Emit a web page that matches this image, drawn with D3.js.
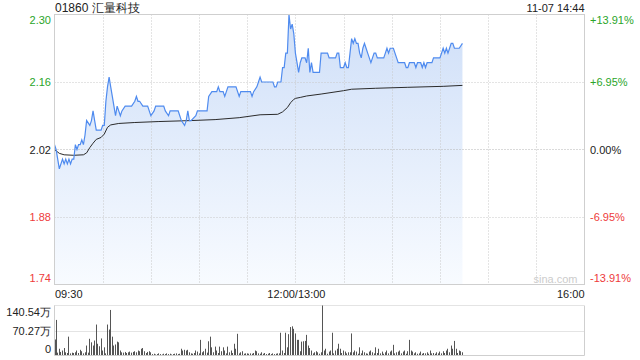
<!DOCTYPE html>
<html><head><meta charset="utf-8">
<script src="https://cdn.jsdelivr.net/npm/d3@7"></script>
<style>body{margin:0;background:#fff}svg{display:block}text{font-family:"Liberation Sans",Arial,sans-serif}</style>
</head><body><svg id="c" width="640" height="360"></svg>
<script>
const title = "01860 汇量科技";
const stamp = "11-07 14:44";
const prevClose = 2.02;
const priceTicks = [2.30, 2.16, 2.02, 1.88, 1.74];
const pctTicks = ["+13.91%", "+6.95%", "0.00%", "-6.95%", "-13.91%"];
const timeLabels = ["09:30", "12:00/13:00", "16:00"];
const gridTimes = ["09:30","10:00","10:30","11:00","11:30","13:00","13:30","14:00","14:30","15:00","15:30","16:00"];
const volTicks = [140.54, 70.27, 0];
const volTickLabels = ["140.54万", "70.27万", "0"];

const priceSeries = [
["09:30",2.03],["09:31",2.02],["09:33",1.98],["09:35",2.00],["09:36",1.99],["09:37",2.00],["09:38",1.99],["09:39",2.00],
["09:40",1.99],["09:41",2.00],["09:42",2.00],["09:43",2.03],["09:44",2.02],["09:45",2.03],["09:46",2.03],["09:47",2.04],
["09:48",2.03],["09:49",2.05],["09:50",2.08],["09:52",2.07],["09:53",2.08],["09:54",2.10],["09:55",2.08],["09:56",2.06],
["09:57",2.06],["09:59",2.06],["10:00",2.07],["10:01",2.07],["10:02",2.12],["10:03",2.15],["10:04",2.17],["10:05",2.15],
["10:06",2.13],["10:07",2.11],["10:08",2.09],["10:09",2.11],["10:10",2.10],["10:11",2.09],["10:12",2.10],["10:14",2.11],
["10:18",2.11],["10:20",2.12],["10:21",2.13],["10:22",2.12],["10:23",2.12],["10:25",2.11],["10:28",2.11],["10:30",2.09],
["10:32",2.10],["10:33",2.11],["10:38",2.11],["10:39",2.10],["10:41",2.09],["10:42",2.10],["10:47",2.10],["10:48",2.09],
["10:49",2.08],["10:51",2.07],["10:52",2.08],["10:53",2.10],["10:54",2.08],["10:55",2.08],["10:58",2.09],["10:59",2.10],
["11:05",2.10],["11:06",2.13],["11:08",2.14],["11:11",2.14],["11:12",2.15],["11:13",2.14],["11:15",2.14],["11:16",2.13],
["11:17",2.14],["11:18",2.15],["11:23",2.15],["11:25",2.13],["11:26",2.14],["11:32",2.14],["11:33",2.13],["11:34",2.14],
["11:36",2.15],["11:37",2.16],["11:38",2.17],["11:39",2.16],["11:46",2.16],["11:47",2.15],["11:48",2.15],["11:49",2.16],
["11:51",2.16],["11:52",2.19],["11:53",2.19],["11:54",2.22],["11:55",2.22],["11:56",2.30],["11:57",2.27],["11:58",2.28],
["11:59",2.26],["13:00",2.22],["13:01",2.20],["13:02",2.18],["13:03",2.20],["13:04",2.21],["13:06",2.21],["13:07",2.20],
["13:08",2.23],["13:09",2.18],["13:10",2.20],["13:11",2.18],["13:15",2.18],["13:16",2.22],["13:20",2.22],["13:21",2.21],
["13:25",2.21],["13:26",2.22],["13:27",2.22],["13:28",2.19],["13:30",2.19],["13:31",2.20],["13:32",2.19],["13:33",2.19],
["13:34",2.22],["13:35",2.25],["13:36",2.24],["13:37",2.25],["13:38",2.24],["13:39",2.24],["13:40",2.22],["13:41",2.21],
["13:42",2.23],["13:43",2.24],["13:44",2.23],["13:45",2.22],["13:46",2.21],["13:47",2.20],["13:48",2.21],["13:49",2.22],
["13:50",2.22],["13:51",2.21],["13:55",2.21],["13:56",2.22],["13:57",2.23],["13:58",2.22],["13:59",2.23],["14:01",2.23],
["14:03",2.21],["14:04",2.20],["14:08",2.20],["14:09",2.19],["14:10",2.19],["14:11",2.20],["14:14",2.20],["14:15",2.19],
["14:16",2.20],["14:18",2.20],["14:19",2.19],["14:20",2.20],["14:21",2.19],["14:22",2.20],["14:25",2.20],["14:26",2.21],
["14:30",2.21],["14:31",2.22],["14:32",2.23],["14:33",2.22],["14:34",2.23],["14:35",2.22],["14:36",2.23],["14:37",2.24],
["14:38",2.24],["14:39",2.23],["14:42",2.23],["14:44",2.24]
];

const avgSeries = [
["09:30",2.020],["09:33",2.012],["09:36",2.009],["09:42",2.008],["09:48",2.009],["09:50",2.013],["09:52",2.024],
["09:54",2.033],["09:56",2.041],["09:59",2.045],["10:01",2.052],["10:03",2.066],["10:05",2.071],["10:10",2.074],
["10:20",2.076],["10:35",2.078],["10:55",2.080],["11:10",2.082],["11:25",2.086],["11:38",2.092],["11:49",2.093],
["11:52",2.098],["11:55",2.107],["11:57",2.117],["11:59",2.124],["13:00",2.126],["13:03",2.128],["13:07",2.131],
["13:16",2.135],["13:30",2.142],["13:35",2.145],["13:50",2.147],["14:10",2.149],["14:32",2.151],["14:44",2.153]
];

// per-minute volume (万), starting 09:30
const volumes = [
45,100,8,19,10,14,21,9,7,53,
6,8,7,9,14,7,16,12,6,9,
28,8,47,37,28,42,87,33,26,48,
14,23,6,87,73,128,53,28,31,39,
37,14,9,8,10,7,9,11,8,10,
12,9,14,12,19,21,12,7,10,12,
9,4,5,3,4,6,4,3,5,4,
6,4,5,3,4,5,6,4,5,19,
14,16,14,16,9,6,5,7,14,11,
6,44,9,12,19,8,40,53,23,9,
25,14,7,25,12,23,14,6,25,9,
14,7,33,19,61,6,9,12,5,6,
6,5,6,5,7,14,12,6,5,9,
5,7,4,5,7,4,6,4,5,6,
6,64,14,7,64,23,60,80,82,75,
62,44,44,12,39,40,41,58,28,21,
14,6,9,12,9,5,9,140.54,14,19,
5,11,14,64,6,14,19,33,19,7,
14,11,6,9,9,62,9,14,11,5,
23,6,14,9,6,5,11,14,9,6,
23,7,19,6,11,5,9,14,6,11,
14,30,6,9,11,14,6,11,14,5,
12,44,14,11,6,9,5,6,11,5,
7,6,9,5,14,6,7,5,9,6,
11,6,12,7,14,19,9,28,19,41,
19,7,14,12,9
];

function sessionMinute(t){
  const [h,m] = t.split(":").map(Number);
  const v = h*60+m;
  return v <= 720 ? v-570 : v-780+150;
}

const svg = d3.select("#c");
const L = 54.5, R = 584.5, T = 14.5, B = 284.5;
const VT = 305.5, VB = 355.5;
const x = d3.scaleLinear().domain([0,330]).range([L,R]);
const y = d3.scaleLinear().domain([1.74,2.30]).range([B,T]);
const yv = d3.scaleLinear().domain([0,140.54]).range([VB,VT]);

const green = "#2aa52a", red = "#ee3b3b", black = "#222";
const grid = "#c8c8c8", border = "#cfcfcf";

const defs = svg.append("defs");
const grad = defs.append("linearGradient").attr("id","fillg")
  .attr("gradientUnits","userSpaceOnUse").attr("x1",0).attr("y1",T).attr("x2",0).attr("y2",B);
grad.append("stop").attr("offset","0%").attr("stop-color","#cfdff8");
grad.append("stop").attr("offset","100%").attr("stop-color","#f8fbff");

// area
svg.append("path").datum(priceSeries)
  .attr("d", d3.area().x(d=>x(sessionMinute(d[0]))).y0(B).y1(d=>y(d[1])))
  .attr("fill","url(#fillg)");

// vertical gridlines
const vg = gridTimes.slice(1,-1);
svg.selectAll(".vg").data(vg).enter().append("line")
  .attr("x1",d=>Math.round(x(sessionMinute(d)))+0.5).attr("x2",d=>Math.round(x(sessionMinute(d)))+0.5)
  .attr("y1",T).attr("y2",B).attr("stroke",grid).attr("stroke-dasharray","1,2");
// horizontal gridlines
svg.selectAll(".hg").data(priceTicks.slice(1,-1)).enter().append("line")
  .attr("x1",L).attr("x2",R)
  .attr("y1",d=>Math.round(y(d))+0.5).attr("y2",d=>Math.round(y(d))+0.5)
  .attr("stroke",d=>d===prevClose?"#b5b5b5":grid).attr("stroke-dasharray","1,2");

// avg line
svg.append("path").datum(avgSeries)
  .attr("d", d3.line().x(d=>x(sessionMinute(d[0]))).y(d=>y(d[1])))
  .attr("fill","none").attr("stroke","#2b2b2b").attr("stroke-width",1);
// price line
svg.append("path").datum(priceSeries)
  .attr("d", d3.line().x(d=>x(sessionMinute(d[0]))).y(d=>y(d[1])))
  .attr("fill","none").attr("stroke","#4f8bef").attr("stroke-width",1.2);

// border
svg.append("rect").attr("x",L).attr("y",T).attr("width",R-L).attr("height",B-T)
  .attr("fill","none").attr("stroke",border);

// watermark
svg.append("text").attr("x",R-7).attr("y",B-2).attr("text-anchor","end")
  .attr("font-size",11).attr("fill","#cccccc").text("sina.com");

// title and stamp
svg.append("text").attr("x",55).attr("y",11.5).attr("font-size",12).attr("fill",black).text(title);
svg.append("text").attr("x",R).attr("y",11.5).attr("text-anchor","end").attr("font-size",11).attr("fill",black).text(stamp);

// price labels
const colorOf = v => v>prevClose?green:(v<prevClose?red:black);
function labelY(v){
  const py = y(v);
  if (v===priceTicks[0]) return py+9.5;
  if (v===priceTicks[priceTicks.length-1]) return py-3;
  return py+4;
}
svg.selectAll(".pl").data(priceTicks).enter().append("text")
  .attr("x",51).attr("y",d=>labelY(d)).attr("text-anchor","end").attr("font-size",11)
  .attr("fill",d=>colorOf(d)).text(d=>d.toFixed(2));
svg.selectAll(".pr").data(priceTicks).enter().append("text")
  .attr("x",590).attr("y",d=>labelY(d)).attr("font-size",11)
  .attr("fill",d=>colorOf(d)).text((d,i)=>pctTicks[i]);

// time labels
const tAnchor = ["start","middle","end"];
const tPos = ["09:30","13:00","16:00"];
svg.selectAll(".tl").data(timeLabels).enter().append("text")
  .attr("x",(d,i)=> i===0? x(sessionMinute(tPos[i]))+0.5 : (i===2? x(sessionMinute(tPos[i])) : x(sessionMinute(tPos[i]))+1))
  .attr("y",297.5).attr("text-anchor",(d,i)=>tAnchor[i]).attr("font-size",11).attr("fill",black).text(d=>d);

// volume chart
svg.append("line").attr("x1",L).attr("x2",R).attr("y1",VT).attr("y2",VT).attr("stroke",grid).attr("stroke-dasharray","1,1");
svg.append("line").attr("x1",L).attr("x2",R).attr("y1",Math.round(yv(volTicks[1]))+0.5).attr("y2",Math.round(yv(volTicks[1]))+0.5)
  .attr("stroke",grid).attr("stroke-dasharray","1,1");
svg.selectAll(".vb").data(volumes).enter().append("rect")
  .attr("x",(d,i)=>Math.floor(x(i))+ (i===0?1:0)).attr("width",1)
  .attr("y",d=>yv(d)).attr("height",d=>VB-yv(d)).attr("fill","#555");
svg.append("line").attr("x1",L).attr("x2",L).attr("y1",VT).attr("y2",VB).attr("stroke",border);
svg.append("line").attr("x1",R).attr("x2",R).attr("y1",VT).attr("y2",VB).attr("stroke",border);
svg.append("line").attr("x1",L).attr("x2",R).attr("y1",VB).attr("y2",VB).attr("stroke",border);

svg.selectAll(".vl").data(volTicks).enter().append("text")
  .attr("x",51).attr("text-anchor","end").attr("font-size",11).attr("fill",black)
  .attr("y",(d,i)=> i===0? yv(d)+10.5 : (i===2? yv(d)-3 : yv(d)+4))
  .text((d,i)=>volTickLabels[i]);
</script></body></html>
